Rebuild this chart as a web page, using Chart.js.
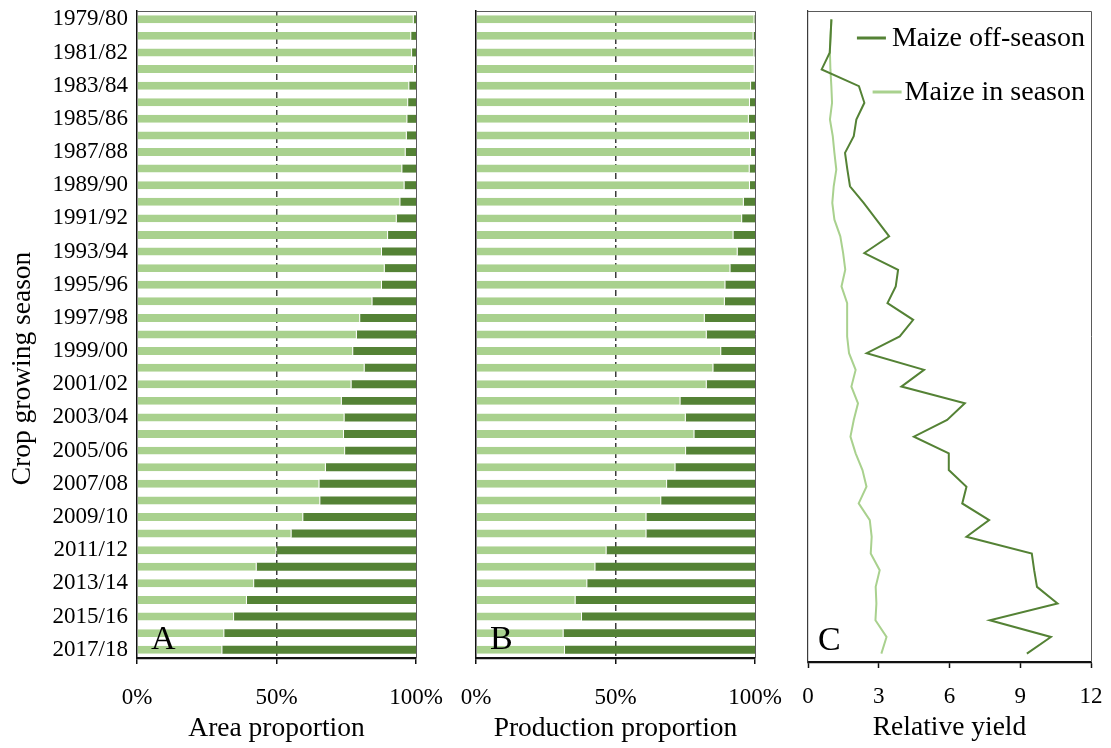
<!DOCTYPE html>
<html>
<head>
<meta charset="utf-8">
<title>Maize in season and off-season, 1979/80 to 2017/18</title>
<script src="https://cdn.jsdelivr.net/npm/chart.js@4.4.1/dist/chart.umd.min.js"></script>
<style>
  html, body { margin: 0; padding: 0; background: #ffffff; }
  #figure { position: relative; width: 1111px; height: 748px; overflow: hidden; }
  #figure canvas { position: absolute; left: 0; top: 0; }
</style>
</head>
<body>
<div id="figure">
  <canvas id="areaChart" width="1111" height="748"></canvas>
  <canvas id="productionChart" width="1111" height="748"></canvas>
  <canvas id="yieldChart" width="1111" height="748"></canvas>
</div>
<script>
// Crop growing seasons (one row per season, top to bottom)
const seasons = [
  '1979/80', '1980/81', '1981/82', '1982/83', '1983/84', '1984/85', '1985/86', '1986/87',
  '1987/88', '1988/89', '1989/90', '1990/91', '1991/92', '1992/93', '1993/94', '1994/95',
  '1995/96', '1996/97', '1997/98', '1998/99', '1999/00', '2000/01', '2001/02', '2002/03',
  '2003/04', '2004/05', '2005/06', '2006/07', '2007/08', '2008/09', '2009/10', '2010/11',
  '2011/12', '2012/13', '2013/14', '2014/15', '2015/16', '2016/17', '2017/18'
];

// A: share of planted area (%)
const areaInSeason = [
  99.2, 98.3, 98.6, 99.3, 97.6, 97.2, 96.9, 96.7, 96.3, 95.1, 95.9, 94.4, 93.1, 90.0,
  87.8, 88.8, 87.8, 84.4, 80.0, 78.8, 77.5, 81.6, 76.9, 73.4, 74.4, 74.2, 74.6, 67.7,
  65.4, 65.7, 59.6, 55.4, 50.0, 42.9, 42.0, 39.4, 34.8, 31.3, 30.6
];
const areaOffSeason = [
  0.8, 1.7, 1.4, 0.7, 2.4, 2.8, 3.1, 3.3, 3.7, 4.9, 4.1, 5.6, 6.9, 10.0,
  12.2, 11.2, 12.2, 15.6, 20.0, 21.2, 22.5, 18.4, 23.1, 26.6, 25.6, 25.8, 25.4, 32.3,
  34.6, 34.3, 40.4, 44.6, 50.0, 57.1, 58.0, 60.6, 65.2, 68.7, 69.4
];

// B: share of production (%)
const productionInSeason = [
  99.8, 99.5, 99.8, 99.9, 98.6, 98.2, 97.8, 98.2, 98.6, 98.1, 98.2, 96.0, 95.4, 92.3,
  93.8, 91.2, 89.4, 89.2, 82.0, 82.7, 87.9, 85.1, 82.7, 73.3, 75.2, 78.3, 75.3, 71.5,
  68.5, 66.4, 61.1, 61.1, 46.8, 42.8, 39.9, 35.7, 38.0, 31.4, 31.9
];
const productionOffSeason = [
  0.2, 0.5, 0.2, 0.1, 1.4, 1.8, 2.2, 1.8, 1.4, 1.9, 1.8, 4.0, 4.6, 7.7,
  6.2, 8.8, 10.6, 10.8, 18.0, 17.3, 12.1, 14.9, 17.3, 26.7, 24.8, 21.7, 24.7, 28.5,
  31.5, 33.6, 38.9, 38.9, 53.2, 57.2, 60.1, 64.3, 62.0, 68.6, 68.1
];

// C: relative yield
const yieldOffSeason = [
  0.99, 0.96, 0.92, 0.58, 2.16, 2.39, 2.05, 1.94, 1.57, 1.67, 1.78, 2.36, 2.90, 3.44,
  2.39, 3.82, 3.72, 3.37, 4.46, 3.89, 2.49, 4.92, 3.96, 6.65, 5.90, 4.49, 5.97, 5.97,
  6.72, 6.54, 7.68, 6.72, 9.49, 9.59, 9.71, 10.58, 7.71, 10.30, 9.28
];
const yieldInSeason = [
  1.00, 0.95, 0.93, 0.95, 0.99, 1.02, 0.93, 1.05, 1.12, 1.20, 1.09, 1.03, 1.12, 1.37,
  1.49, 1.58, 1.42, 1.66, 1.66, 1.66, 1.74, 2.02, 1.84, 2.12, 1.94, 1.80, 2.02, 2.31,
  2.48, 2.15, 2.62, 2.70, 2.66, 3.04, 2.87, 2.90, 2.86, 3.33, 3.11
];

// Axis tick values
const percentTicks = [0, 50, 100];
const yieldTicks = [0, 3, 6, 9, 12];

const LIGHT = '#A9D18E';
const DARK = '#548235';
const SERIF = "'Liberation Serif', 'Times New Roman', serif";
const TICK_SIZE = 23;
const TITLE_SIZE = 27.5;

Chart.defaults.font.family = SERIF;
Chart.defaults.color = '#000000';

// Thin grey lines along the top and right of each plot area
const framePlugin = {
  id: 'panelFrame',
  afterDatasetsDraw(chart) {
    const { ctx, chartArea: a } = chart;
    ctx.save();
    ctx.strokeStyle = '#5a5a5a';
    ctx.lineWidth = 1;
    ctx.beginPath();
    ctx.moveTo(a.left, a.top + 0.5);
    ctx.lineTo(a.right + 0.5, a.top + 0.5);
    ctx.lineTo(a.right + 0.5, a.bottom);
    ctx.stroke();
    ctx.restore();
  }
};

// Panel letter in the lower-left corner of the plot area
const letterPlugin = {
  id: 'panelLetter',
  afterDraw(chart, args, opts) {
    if (!opts || !opts.text) return;
    const { ctx, chartArea: a } = chart;
    ctx.save();
    ctx.font = '34px ' + SERIF;
    ctx.fillStyle = '#000';
    ctx.textAlign = 'left';
    ctx.textBaseline = 'alphabetic';
    ctx.fillText(opts.text, a.left + opts.dx, a.bottom - opts.dy);
    ctx.restore();
  }
};

// Rotated title beside the season axis
const seasonTitlePlugin = {
  id: 'seasonTitle',
  afterDraw(chart, args, opts) {
    if (!opts || !opts.text) return;
    const { ctx, chartArea: a } = chart;
    ctx.save();
    ctx.font = TITLE_SIZE + 'px ' + SERIF;
    ctx.fillStyle = '#000';
    ctx.textAlign = 'center';
    ctx.textBaseline = 'middle';
    ctx.translate(opts.x, (a.top + a.bottom) / 2 + opts.shift);
    ctx.rotate(-Math.PI / 2);
    ctx.fillText(opts.text, 0, 0);
    ctx.restore();
  }
};

// Right-aligned legend inside the top-right of the yield panel
const yieldLegendPlugin = {
  id: 'yieldLegend',
  afterDraw(chart, args, opts) {
    if (!opts || !opts.items) return;
    const { ctx, chartArea: a } = chart;
    ctx.save();
    ctx.font = '28px ' + SERIF;
    ctx.textBaseline = 'middle';
    ctx.textAlign = 'left';
    opts.items.forEach(item => {
      const ds = chart.data.datasets[item.dataset];
      const w = ctx.measureText(ds.label).width;
      const textLeft = a.right - 6 - w;
      const y = a.top + item.dy;
      ctx.strokeStyle = ds.borderColor;
      ctx.lineWidth = 3;
      ctx.beginPath();
      ctx.moveTo(textLeft - item.gap - 29, y);
      ctx.lineTo(textLeft - item.gap, y);
      ctx.stroke();
      ctx.fillStyle = '#000';
      ctx.fillText(ds.label, textLeft, y + 1);
    });
    ctx.restore();
  }
};

function proportionChart(canvasId, inSeason, offSeason, axisTitle, letter, withSeasonAxis, padLeft, padRight) {
  return new Chart(document.getElementById(canvasId), {
    type: 'bar',
    data: {
      labels: seasons,
      datasets: [
        {
          label: 'Maize in season',
          data: inSeason,
          backgroundColor: LIGHT,
          borderColor: '#ffffff',
          borderWidth: { left: 0, right: 1, top: 0, bottom: 0 },
          borderSkipped: false
        },
        {
          label: 'Maize off-season',
          data: offSeason,
          backgroundColor: DARK,
          borderWidth: 0
        }
      ]
    },
    options: {
      indexAxis: 'y',
      responsive: false,
      animation: false,
      devicePixelRatio: 1,
      events: [],
      layout: { padding: { left: padLeft, right: padRight, top: 11, bottom: 0 } },
      datasets: { bar: { categoryPercentage: 1, barPercentage: 0.48 } },
      plugins: {
        legend: { display: false },
        tooltip: { enabled: false },
        panelLetter: { text: letter, dx: 14, dy: 9 },
        seasonTitle: withSeasonAxis ? { text: 'Crop growing season', x: 23, shift: 34 } : {}
      },
      scales: {
        x: {
          type: 'linear',
          stacked: true,
          min: 0,
          max: 100,
          afterBuildTicks: s => { s.ticks = percentTicks.map(v => ({ value: v })); },
          ticks: {
            callback: v => v + '%',
            padding: 20,
            font: { size: TICK_SIZE },
            color: '#000',
            maxRotation: 0,
            autoSkip: false
          },
          grid: {
            color: c => (c.tick && c.tick.value === 50) ? '#3c3c3c' : 'rgba(0,0,0,0)',
            lineWidth: 1.5,
            drawTicks: true,
            tickLength: 6,
            tickColor: '#111',
            tickWidth: 1.5
          },
          border: { display: true, color: '#111', width: 2.2, dash: [6, 3] },
          title: {
            display: true,
            text: axisTitle,
            font: { size: TITLE_SIZE },
            color: '#000',
            padding: { top: 0, bottom: 3 }
          },
          afterFit: s => { s.height = 90; s.paddingLeft = 0; s.paddingRight = 0; }
        },
        y: {
          type: 'category',
          stacked: true,
          offset: true,
          grid: { display: false, drawTicks: false },
          border: { display: true, color: '#111', width: 1.5 },
          ticks: {
            display: withSeasonAxis,
            autoSkip: false,
            padding: 9,
            font: { size: TICK_SIZE },
            color: '#000',
            callback: (v, i) => (i % 2 === 0 ? seasons[i] : '')
          },
          afterFit: s => {
            s.width = withSeasonAxis ? 137 : 0;
            s.paddingTop = 0;
            s.paddingBottom = 0;
          }
        }
      }
    },
    plugins: [framePlugin, letterPlugin, seasonTitlePlugin]
  });
}

proportionChart('areaChart', areaInSeason, areaOffSeason, 'Area proportion', 'A', true, 0, 1111 - 416);
proportionChart('productionChart', productionInSeason, productionOffSeason, 'Production proportion', 'B', false, 476, 1111 - 755);

new Chart(document.getElementById('yieldChart'), {
  type: 'line',
  data: {
    labels: seasons,
    datasets: [
      {
        label: 'Maize off-season',
        data: yieldOffSeason,
        borderColor: DARK,
        borderWidth: 2,
        pointRadius: 0,
        tension: 0,
        fill: false
      },
      {
        label: 'Maize in season',
        data: yieldInSeason,
        borderColor: LIGHT,
        borderWidth: 2,
        pointRadius: 0,
        tension: 0,
        fill: false
      }
    ]
  },
  options: {
    indexAxis: 'y',
    responsive: false,
    animation: false,
    devicePixelRatio: 1,
    events: [],
    layout: { padding: { left: 808, right: 20, top: 11, bottom: 0 } },
    plugins: {
      legend: { display: false },
      tooltip: { enabled: false },
      panelLetter: { text: 'C', dx: 10, dy: 12 },
      yieldLegend: {
        items: [
          { dataset: 0, dy: 27, gap: 6 },
          { dataset: 1, dy: 81, gap: 3 }
        ]
      }
    },
    scales: {
      x: {
        type: 'linear',
        min: 0,
        max: 12,
        afterBuildTicks: s => { s.ticks = yieldTicks.map(v => ({ value: v })); },
        ticks: {
          padding: 15,
          font: { size: TICK_SIZE },
          color: '#000',
          maxRotation: 0,
          autoSkip: false
        },
        grid: {
          color: 'rgba(0,0,0,0)',
          drawTicks: true,
          tickLength: 6,
          tickColor: '#111',
          tickWidth: 1.5
        },
        border: { display: true, color: '#111', width: 2.2 },
        title: {
          display: true,
          text: 'Relative yield',
          font: { size: TITLE_SIZE },
          color: '#000',
          padding: { top: 0, bottom: 4 }
        },
        afterFit: s => { s.height = 86; s.paddingLeft = 0; s.paddingRight = 0; }
      },
      y: {
        type: 'category',
        offset: true,
        grid: { display: false, drawTicks: false },
        border: { display: true, color: '#3c3c3c', width: 1.2 },
        ticks: { display: false },
        afterFit: s => { s.width = 0; s.paddingTop = 0; s.paddingBottom = 0; }
      }
    }
  },
  plugins: [framePlugin, letterPlugin, yieldLegendPlugin]
});
</script>
</body>
</html>
